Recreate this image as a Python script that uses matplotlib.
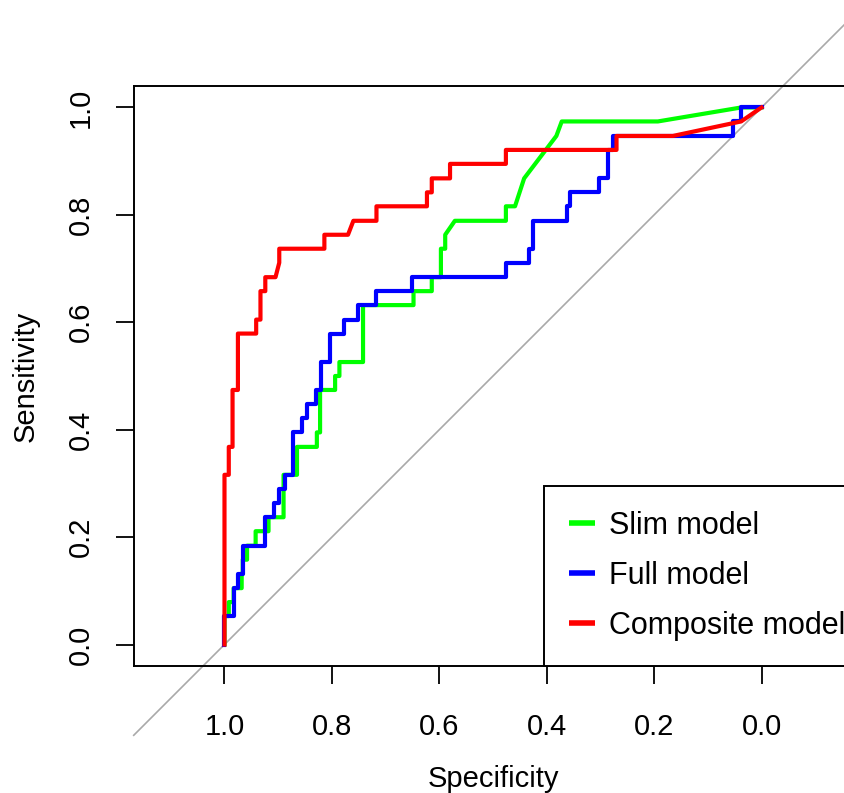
import numpy as np
import matplotlib
matplotlib.use("Agg")
import matplotlib.pyplot as plt

plt.rcParams['font.family'] = ['Liberation Sans', 'DejaVu Sans']

# ROC curves: (specificity, sensitivity) path points
slim_spec = [1.0, 1.0, 0.992, 0.992, 0.983, 0.983, 0.968, 0.968, 0.966, 0.966,
             0.958, 0.958, 0.942, 0.942, 0.918, 0.918, 0.890, 0.890, 0.865, 0.865,
             0.828, 0.828, 0.822, 0.822, 0.794, 0.794, 0.786, 0.786, 0.742, 0.742,
             0.648, 0.648, 0.614, 0.614, 0.597, 0.597, 0.589, 0.589, 0.571, 0.476,
             0.476, 0.459, 0.442, 0.382, 0.372, 0.193, 0.038, 0.0]
slim_sens = [0.0, 0.053, 0.053, 0.079, 0.079, 0.105, 0.105, 0.132, 0.132, 0.158,
             0.158, 0.184, 0.184, 0.211, 0.211, 0.237, 0.237, 0.316, 0.316, 0.368,
             0.368, 0.395, 0.395, 0.474, 0.474, 0.5, 0.5, 0.526, 0.526, 0.632,
             0.632, 0.658, 0.658, 0.684, 0.684, 0.737, 0.737, 0.763, 0.789, 0.789,
             0.816, 0.816, 0.868, 0.947, 0.974, 0.974, 1.0, 1.0]

full_spec = [1.0, 1.0, 0.983, 0.983, 0.975, 0.975, 0.966, 0.966, 0.924, 0.924,
             0.907, 0.907, 0.898, 0.898, 0.888, 0.888, 0.872, 0.872, 0.856, 0.856,
             0.846, 0.846, 0.829, 0.829, 0.820, 0.820, 0.804, 0.804, 0.777, 0.777,
             0.752, 0.752, 0.717, 0.717, 0.651, 0.651, 0.476, 0.476, 0.433, 0.433,
             0.425, 0.425, 0.363, 0.363, 0.356, 0.356, 0.303, 0.303, 0.286, 0.286,
             0.277, 0.277, 0.053, 0.053, 0.038, 0.038, 0.0]
full_sens = [0.0, 0.053, 0.053, 0.105, 0.105, 0.132, 0.132, 0.184, 0.184, 0.237,
             0.237, 0.263, 0.263, 0.289, 0.289, 0.316, 0.316, 0.395, 0.395, 0.421,
             0.421, 0.447, 0.447, 0.474, 0.474, 0.526, 0.526, 0.579, 0.579, 0.605,
             0.605, 0.632, 0.632, 0.658, 0.658, 0.684, 0.684, 0.711, 0.711, 0.737,
             0.737, 0.789, 0.789, 0.816, 0.816, 0.842, 0.842, 0.868, 0.868, 0.921,
             0.921, 0.947, 0.947, 0.974, 0.974, 1.0, 1.0]

comp_spec = [1.0, 1.0, 0.992, 0.992, 0.985, 0.985, 0.975, 0.975, 0.941, 0.941,
             0.933, 0.933, 0.924, 0.924, 0.905, 0.898, 0.898, 0.814, 0.814, 0.770,
             0.760, 0.717, 0.717, 0.623, 0.623, 0.614, 0.614, 0.580, 0.580, 0.476,
             0.476, 0.270, 0.270, 0.165, 0.038, 0.0]
comp_sens = [0.0, 0.316, 0.316, 0.368, 0.368, 0.474, 0.474, 0.579, 0.579, 0.605,
             0.605, 0.658, 0.658, 0.684, 0.684, 0.711, 0.737, 0.737, 0.763, 0.763,
             0.789, 0.789, 0.816, 0.816, 0.842, 0.842, 0.868, 0.868, 0.895, 0.895,
             0.921, 0.921, 0.947, 0.947, 0.974, 1.0]

labels = ["Slim model", "Full model", "Composite model"]
colores = ["#00FF00", "#0000FF", "#FF0000"]

fig = plt.figure(figsize=(8.45, 7.93), dpi=100)
# the plot region runs past the right edge of the picture (cropped R plot)
ax = fig.add_axes([134/845, 127/793, 718/845, 580/793])
ax.set_xlim(1.1685, -0.1685)
ax.set_ylim(-0.04, 1.04)

# linea identidad
diag = np.array([1.169, -0.5])
ax.plot(diag, 1 - diag, color="#A9A9A9", lw=1.2, clip_on=False, zorder=1)

ax.plot(slim_spec, slim_sens, color=colores[0], lw=3, label=labels[0], zorder=2)
ax.plot(full_spec, full_sens, color=colores[1], lw=3, label=labels[1], zorder=3)
ax.plot(comp_spec, comp_sens, color=colores[2], lw=3, label=labels[2], zorder=4)

ax.set_xticks([1.0, 0.8, 0.6, 0.4, 0.2, 0.0])
ax.set_yticks([0.0, 0.2, 0.4, 0.6, 0.8, 1.0])
ax.set_xticklabels(["1.0", "0.8", "0.6", "0.4", "0.2", "0.0"])
ax.set_yticklabels(["0.0", "0.2", "0.4", "0.6", "0.8", "1.0"], rotation=90, va="center")
ax.tick_params(axis="both", length=13, width=1.3, labelsize=21, color="black")
ax.tick_params(axis="x", pad=21)
ax.tick_params(axis="y", pad=15)
for s in ax.spines.values():
    s.set_linewidth(1.4)

ax.set_xlabel("Specificity", fontsize=21, labelpad=17)
ax.set_ylabel("Sensitivity", fontsize=21, labelpad=20)

leg = ax.legend(loc="lower left", bbox_to_anchor=((544 - 134) / 718, 0.0),
                borderaxespad=0, fontsize=22, fancybox=False, framealpha=1,
                edgecolor="black", handlelength=0.85, handletextpad=0.45,
                labelspacing=0.66, borderpad=0.82)
leg.get_frame().set_linewidth(1.4)
for h in leg.get_lines():
    h.set_linewidth(4)
    h.set_solid_capstyle("butt")

fig.savefig("out.png", dpi=100)
